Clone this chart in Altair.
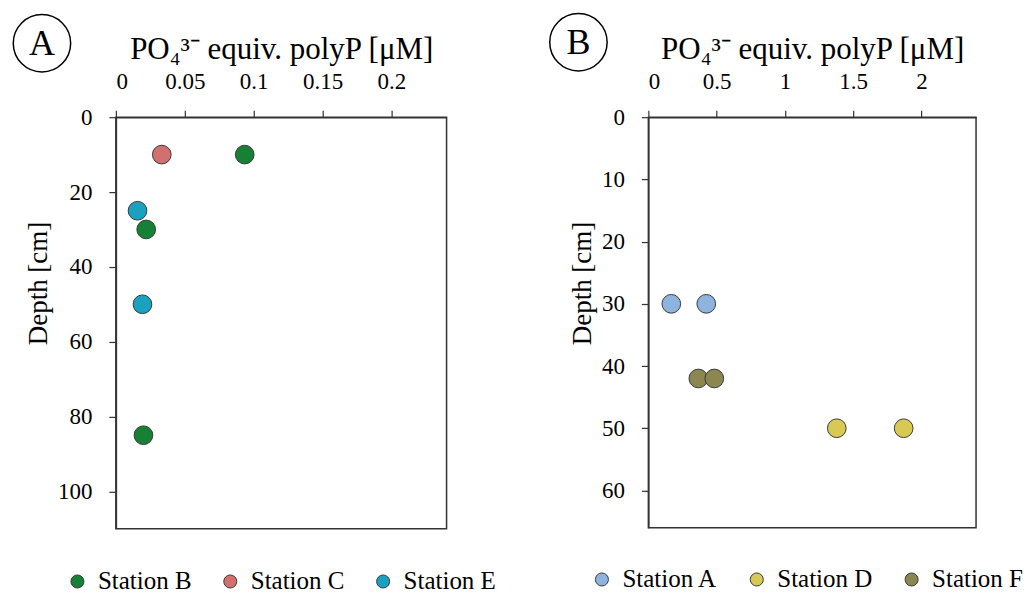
import altair as alt
import pandas as pd

FONT = "Liberation Serif"

# Panel A data
a_station = ["Station B", "Station B", "Station B", "Station C", "Station E", "Station E"]
a_value = [0.0935, 0.022, 0.020, 0.0333, 0.0157, 0.0193]
a_depth = [10, 30, 85, 10, 25, 50]
a_order = ["Station B", "Station C", "Station E"]
a_colors = ["#168035", "#D27070", "#1BA1C0"]
a_xticks = [0, 0.05, 0.1, 0.15, 0.2]
a_yticks = [0, 20, 40, 60, 80, 100]

# Panel B data
b_station = ["Station A", "Station A", "Station D", "Station D", "Station F", "Station F"]
b_value = [0.168, 0.424, 1.38, 1.87, 0.366, 0.483]
b_depth = [30, 30, 50, 50, 42, 42]
b_order = ["Station A", "Station D", "Station F"]
b_colors = ["#8EB3DD", "#D8C955", "#8C8650"]
b_xticks = [0, 0.5, 1, 1.5, 2]
b_yticks = [0, 10, 20, 30, 40, 50, 60]

XTITLE = "PO\u2084\u00b3\u207b  equiv. polyP [\u03bcM]"


def panel(station, value, depth, order, colors, xdom, xticks, ydom, yticks,
          letter, lx, ly, legx, legy, w, h):
    df = pd.DataFrame({"station": station, "value": value, "depth": depth})
    pts = alt.Chart(df).mark_point(
        filled=True, size=350, opacity=1, stroke="#3a3a3a", strokeWidth=1
    ).encode(
        x=alt.X("value:Q",
                scale=alt.Scale(domain=xdom, nice=False, zero=True),
                axis=alt.Axis(orient="top", values=xticks, format="~g",
                              title=XTITLE, grid=False, titleFontSize=31,
                              titlePadding=5, labelPadding=17)),
        y=alt.Y("depth:Q",
                scale=alt.Scale(domain=ydom, reverse=True, nice=False),
                axis=alt.Axis(values=yticks, title="Depth [cm]", grid=False,
                              titleFontSize=27, titlePadding=5, labelPadding=17,
                              titleY=166)),
        color=alt.Color("station:N",
                        scale=alt.Scale(domain=order, range=colors),
                        legend=alt.Legend(orient="none", legendX=legx, legendY=legy,
                                          direction="horizontal", title=None,
                                          symbolType="circle", symbolSize=170,
                                          symbolStrokeColor="#3a3a3a",
                                          symbolStrokeWidth=1, symbolOpacity=1,
                                          labelFontSize=25, labelFont=FONT,
                                          labelOffset=8, columnPadding=26,
                                          labelLimit=300)),
    )
    lab = pd.DataFrame({"t": [letter]})
    ring = alt.Chart(lab).mark_point(
        shape="circle", size=3300, filled=False, stroke="black", strokeWidth=1.5, opacity=1
    ).encode(x=alt.value(lx), y=alt.value(ly))
    txt = alt.Chart(lab).mark_text(
        fontSize=36, font=FONT, align="center", baseline="middle", color="black", dy=1
    ).encode(x=alt.value(lx), y=alt.value(ly), text="t:N")
    return alt.layer(pts, ring, txt).properties(width=w, height=h)


pa = panel(a_station, a_value, a_depth, a_order, a_colors, [0, 0.24], a_xticks,
           [0, 110], a_yticks, "A", -74, -74, -51, 452, 331, 412)
pb = panel(b_station, b_value, b_depth, b_order, b_colors, [0, 2.4], b_xticks,
           [0, 66], b_yticks, "B", -70, -75, -59, 450, 328, 411)

chart = alt.hconcat(pa, pb, spacing=202, bounds="flush").resolve_scale(
    color="independent"
).properties(
    padding={"left": 9, "top": 9, "right": 2, "bottom": 5}
).configure(font=FONT).configure_view(
    stroke="#333333", strokeWidth=1.5
).configure_axis(
    labelFont=FONT, titleFont=FONT, labelFontSize=23, labelColor="black",
    titleColor="black", titleFontWeight="normal", domainColor="#333333",
    domainWidth=1.5, tickColor="#333333", tickSize=7, tickWidth=1.2
)

chart.save("out.html", embed_options={"renderer": "svg", "actions": False})
